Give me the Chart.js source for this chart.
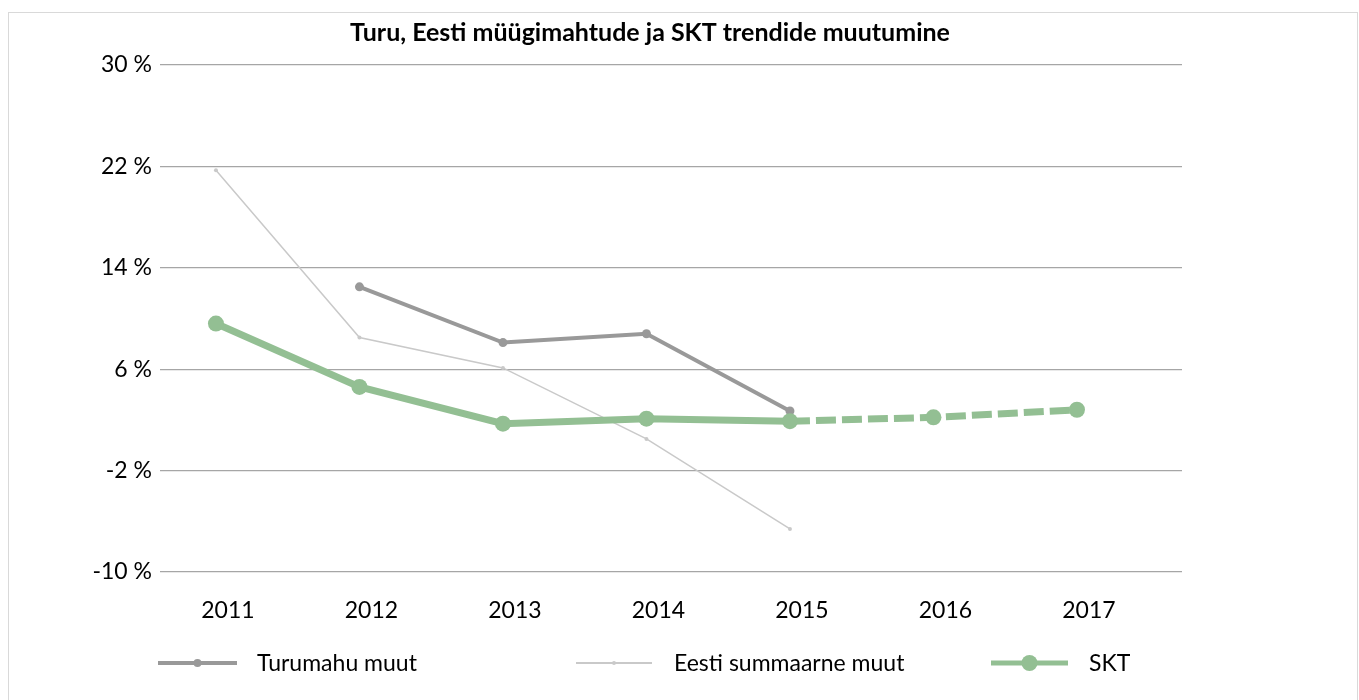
<!DOCTYPE html>
<html>
<head>
<meta charset="utf-8">
<script src="https://cdn.jsdelivr.net/npm/chart.js@4"></script>
<style>
  body { margin: 0; background: #fff; }
  #wrap { position: relative; width: 1359px; height: 700px; overflow: hidden; }
  #frame { position: absolute; left: 8px; top: 12px; width: 1348px; height: 700px; border: 1px solid #d9d9d9; pointer-events: none; }
</style>
</head>
<body>
<div id="wrap">
  <canvas id="chart" width="1359" height="700"></canvas>
  <div id="frame"></div>
</div>
<script>
const chartTitle = "Turu, Eesti müügimahtude ja SKT trendide muutumine";
const years = [2011, 2012, 2013, 2014, 2015, 2016, 2017];
const seriesNames = ["Turumahu muut", "Eesti summaarne muut", "SKT"];
const turumahuMuut = [null, 12.5, 8.1, 8.8, 2.7, null, null];
const eestiSummaarne = [21.7, 8.5, 6.1, 0.5, -6.6, null, null];
const skt = [9.6, 4.6, 1.7, 2.1, 1.9, 2.2, 2.8];
const yTicks = [-10, -2, 6, 14, 22, 30];
const forecastFrom = 2015; // SKT katkendjoon alates siit

const FONT = "Lato, 'Open Sans', sans-serif";

function toPoints(values) {
  return years.map((y, i) => ({ x: y, y: values[i] })).filter(p => p.y !== null);
}

// pealkiri - joonistan ise, et saaks paigutada
const titlePlugin = {
  id: "titlePlugin",
  afterDraw(chart) {
    const ctx = chart.ctx;
    ctx.save();
    ctx.font = "bold 25px " + FONT;
    ctx.fillStyle = "#000";
    ctx.textAlign = "center";
    ctx.textBaseline = "middle";
    ctx.fillText(chartTitle, 650, 33);
    ctx.restore();
  }
};

// legend all - joon + täpp + tekst
const legendPos = [
  { from: 158, to: 237, textX: 257, lw: 4, r: 4 },
  { from: 576, to: 652, textX: 674, lw: 2, r: 2 },
  { from: 991, to: 1068, textX: 1089, lw: 5, r: 8 }
];

const legendPlugin = {
  id: "legendPlugin",
  afterDraw(chart) {
    const ctx = chart.ctx;
    const y = 663;
    ctx.save();
    chart.data.datasets.forEach((ds, i) => {
      const p = legendPos[i];
      ctx.strokeStyle = ds.borderColor;
      ctx.lineWidth = p.lw;
      ctx.beginPath();
      ctx.moveTo(p.from, y);
      ctx.lineTo(p.to, y);
      ctx.stroke();
      ctx.fillStyle = ds.pointBackgroundColor;
      ctx.beginPath();
      ctx.arc((p.from + p.to) / 2, y, p.r, 0, Math.PI * 2);
      ctx.fill();
      ctx.fillStyle = "#000";
      ctx.font = "23px " + FONT;
      ctx.textAlign = "left";
      ctx.textBaseline = "middle";
      ctx.fillText(ds.label, p.textX, y + 1);
    });
    ctx.restore();
  }
};

const ctx = document.getElementById("chart");

new Chart(ctx, {
  type: "line",
  data: {
    datasets: [
      {
        label: seriesNames[0],
        data: toPoints(turumahuMuut),
        borderColor: "#999999",
        backgroundColor: "#999999",
        pointBackgroundColor: "#999999",
        pointBorderWidth: 0,
        borderWidth: 4,
        pointRadius: 4.5,
        order: 2
      },
      {
        label: seriesNames[1],
        data: toPoints(eestiSummaarne),
        borderColor: "#c9c9c9",
        backgroundColor: "#c9c9c9",
        pointBackgroundColor: "#c9c9c9",
        pointBorderWidth: 0,
        borderWidth: 1.5,
        pointRadius: 2,
        order: 3
      },
      {
        label: seriesNames[2],
        data: toPoints(skt),
        borderColor: "#93bf93",
        backgroundColor: "#93bf93",
        pointBackgroundColor: "#93bf93",
        pointBorderWidth: 0,
        borderWidth: 7,
        pointRadius: 8,
        order: 1,
        segment: {
          borderDash: c => c.p0.parsed.x >= forecastFrom ? [20, 6] : undefined
        }
      }
    ]
  },
  options: {
    responsive: false,
    animation: false,
    layout: { padding: { left: 0, right: 177, top: 65, bottom: 78 } },
    plugins: {
      legend: { display: false },
      title: { display: false },
      tooltip: { enabled: false }
    },
    scales: {
      x: {
        type: "linear",
        min: 2010.61,
        max: 2017.732,
        afterBuildTicks(scale) {
          scale.ticks = years.map(v => ({ value: v }));
        },
        afterFit(scale) { scale.height = 50; },
        grid: { display: false, drawTicks: false },
        border: { display: false },
        ticks: {
          padding: 25,
          labelOffset: 12,
          color: "#000",
          font: { family: FONT, size: 23 },
          callback: v => String(v),
          maxRotation: 0,
          autoSkip: false
        }
      },
      y: {
        min: -10,
        max: 30,
        afterBuildTicks(scale) {
          scale.ticks = yTicks.map(v => ({ value: v }));
        },
        afterFit(scale) { scale.width = 160; },
        grid: { color: "#a6a6a6", lineWidth: 1.3, drawTicks: false },
        border: { display: false },
        ticks: {
          padding: 8,
          color: "#000",
          font: { family: FONT, size: 23 },
          callback: v => v + " %"
        }
      }
    }
  },
  plugins: [titlePlugin, legendPlugin]
});
</script>
</body>
</html>
